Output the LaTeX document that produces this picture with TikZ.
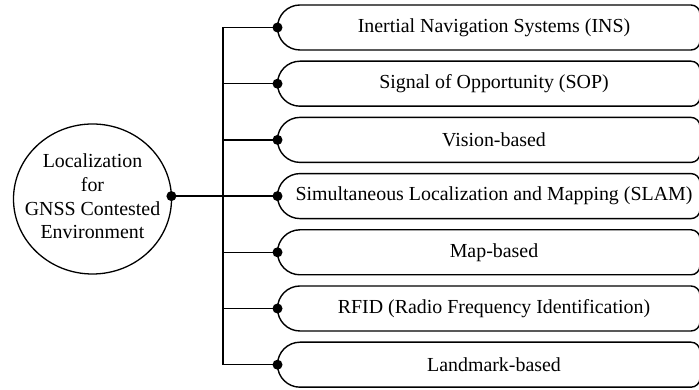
\documentclass[tikz,border=0pt]{standalone}
\usepackage{fontspec}
\setmainfont{Liberation Serif}
\newfontfamily\labelfont{Liberation Serif}
\usetikzlibrary{shapes.geometric,calc}

\tikzset{
  hubshape/.style={ellipse, draw, line width=1.3pt, minimum width=158pt, minimum height=150pt, inner sep=0pt},
  hubtext/.style={align=center, font=\labelfont\fontsize{19.9}{23.7}\selectfont},
  itemtext/.style={font=\labelfont\fontsize{19.9}{23.7}\selectfont, inner sep=0pt},
  itemframe/.style={draw, line width=1.4pt},
  trunk/.style={draw, line width=1.3pt},
  mainlink/.style={draw, line width=2.4pt},
  joint/.style={fill, circle, minimum size=10pt, inner sep=0pt}
}

\begin{document}
\begin{tikzpicture}[x=1pt, y=1pt]
  \useasboundingbox (0,0) rectangle (699,390);
  \clip (0,0) rectangle (699,390);

  % central topic
  \node[hubshape] (hub) at (92.5,191) {};
  \node[hubtext] (hublabel) at (92.5,193.5)
    {Localization\\for\\GNSS Contested\\Environment};
  \coordinate (hubdot) at (171.4,193.9);

  % the seven branches: framed label, joint on its left end
  \foreach \i/\c/\txt in {
      1/362.5/{Inertial Navigation Systems (INS)},
      2/306.3/{Signal of Opportunity (SOP)},
      3/250.1/{Vision-based},
      4/193.9/{Simultaneous Localization and Mapping (SLAM)},
      5/137.7/{Map-based},
      6/81.5/{RFID (Radio Frequency Identification)},
      7/25.3/{Landmark-based}} {
    \path[itemframe] (300,\c+22.5) -- (691,\c+22.5)
      arc[start angle=90, end angle=0, radius=9] -- (700,\c-13.5)
      arc[start angle=0, end angle=-90, radius=9] -- (300,\c-22.5)
      arc[start angle=270, end angle=90, radius=22.5] -- cycle;
    \node[itemtext] (item\i) at (494,\c) {\txt};
    \coordinate (end\i) at (277.5,\c);
    \coordinate (tap\i) at (223,\c);
  }

  % trunk and branch links
  \path[trunk] (tap1) -- (tap7);
  \foreach \i in {1,2,3,5,6,7} {
    \path[trunk] (tap\i) -- (end\i);
  }
  \path[mainlink] (hubdot) -- (end4);

  % joints
  \node[joint] at (hubdot) {};
  \foreach \i in {1,...,7} {
    \node[joint] at (end\i) {};
  }
\end{tikzpicture}
\end{document}
